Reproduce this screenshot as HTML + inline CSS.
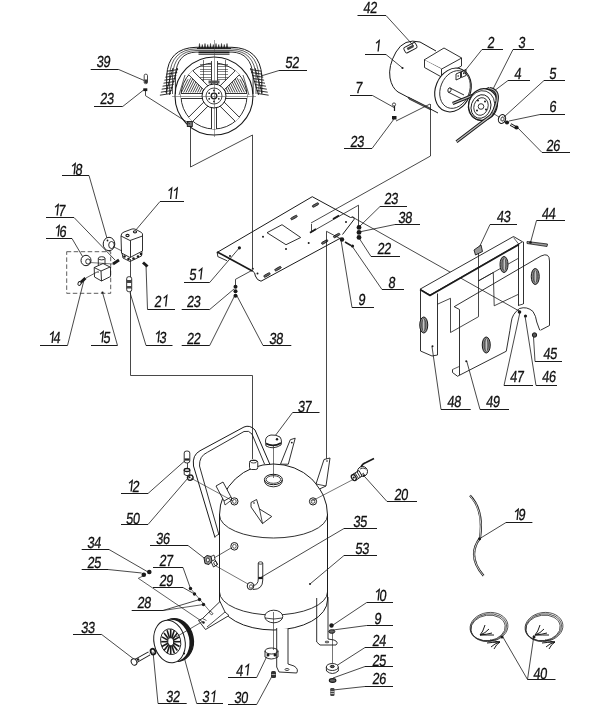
<!DOCTYPE html>
<html><head><meta charset="utf-8"><style>
html,body{margin:0;padding:0;background:#fff;}
svg{display:block;will-change:transform;}
text{font-family:"Liberation Sans",sans-serif;font-size:16px;fill:#111;stroke:#111;stroke-width:0.3px;}
</style></head><body>
<svg width="600" height="716" viewBox="0 0 600 716">
<rect width="600" height="716" fill="#fff"/>
<g transform="translate(363.00,13.00) skewX(-6) scale(0.8,1)"><text x="0" y="0">4</text></g>
<g transform="translate(369.80,13.00) skewX(-6) scale(0.8,1)"><text x="0" y="0">2</text></g>
<line x1="357.5" y1="15.5" x2="386" y2="15.5" stroke="#1a1a1a" stroke-width="1.0"/>
<line x1="386" y1="15.5" x2="413.75" y2="46" stroke="#1a1a1a" stroke-width="0.8"/>
<g transform="translate(375.00,51.50) skewX(-6)"><path d="M 3.1,0 L 3.1,-10.9 L 0.2,-8.2" stroke="#1a1a1a" stroke-width="1.35" fill="none" stroke-linejoin="miter"/></g>
<line x1="365" y1="54.5" x2="386" y2="54.5" stroke="#1a1a1a" stroke-width="1.0"/>
<line x1="386" y1="54.5" x2="402.5" y2="68" stroke="#1a1a1a" stroke-width="0.8"/>
<g transform="translate(487.00,47.50) skewX(-6) scale(0.8,1)"><text x="0" y="0">2</text></g>
<line x1="482" y1="49.5" x2="503" y2="49.5" stroke="#1a1a1a" stroke-width="1.0"/>
<line x1="482" y1="49.5" x2="464" y2="72" stroke="#1a1a1a" stroke-width="0.8"/>
<g transform="translate(518.00,47.50) skewX(-6) scale(0.8,1)"><text x="0" y="0">3</text></g>
<line x1="513" y1="49.5" x2="534" y2="49.5" stroke="#1a1a1a" stroke-width="1.0"/>
<line x1="513" y1="49.5" x2="492" y2="91" stroke="#1a1a1a" stroke-width="0.8"/>
<g transform="translate(514.00,78.50) skewX(-6) scale(0.8,1)"><text x="0" y="0">4</text></g>
<line x1="508" y1="80.5" x2="530" y2="80.5" stroke="#1a1a1a" stroke-width="1.0"/>
<line x1="508" y1="80.5" x2="494" y2="91" stroke="#1a1a1a" stroke-width="0.8"/>
<g transform="translate(549.00,78.50) skewX(-6) scale(0.8,1)"><text x="0" y="0">5</text></g>
<line x1="544" y1="80.5" x2="565" y2="80.5" stroke="#1a1a1a" stroke-width="1.0"/>
<line x1="544" y1="80.5" x2="504" y2="117" stroke="#1a1a1a" stroke-width="0.8"/>
<g transform="translate(549.00,111.50) skewX(-6) scale(0.8,1)"><text x="0" y="0">6</text></g>
<line x1="540" y1="114.5" x2="565" y2="114.5" stroke="#1a1a1a" stroke-width="1.0"/>
<line x1="540" y1="114.5" x2="509" y2="121" stroke="#1a1a1a" stroke-width="0.8"/>
<g transform="translate(546.00,150.50) skewX(-6) scale(0.8,1)"><text x="0" y="0">2</text></g>
<g transform="translate(552.80,150.50) skewX(-6) scale(0.8,1)"><text x="0" y="0">6</text></g>
<line x1="542" y1="152.5" x2="570" y2="152.5" stroke="#1a1a1a" stroke-width="1.0"/>
<line x1="542" y1="152.5" x2="516" y2="126" stroke="#1a1a1a" stroke-width="0.8"/>
<g transform="translate(355.00,93.00) skewX(-6) scale(0.8,1)"><text x="0" y="0">7</text></g>
<line x1="350" y1="95.5" x2="372.5" y2="95.5" stroke="#1a1a1a" stroke-width="1.0"/>
<line x1="372.5" y1="95.5" x2="394" y2="107.5" stroke="#1a1a1a" stroke-width="0.8"/>
<g transform="translate(350.00,146.50) skewX(-6) scale(0.8,1)"><text x="0" y="0">2</text></g>
<g transform="translate(356.80,146.50) skewX(-6) scale(0.8,1)"><text x="0" y="0">3</text></g>
<line x1="344" y1="148.5" x2="372" y2="148.5" stroke="#1a1a1a" stroke-width="1.0"/>
<line x1="372" y1="148.5" x2="394" y2="119" stroke="#1a1a1a" stroke-width="0.8"/>
<g transform="translate(96.30,66.80) skewX(-6) scale(0.8,1)"><text x="0" y="0">3</text></g>
<g transform="translate(103.10,66.80) skewX(-6) scale(0.8,1)"><text x="0" y="0">9</text></g>
<line x1="90.7" y1="69.5" x2="118.7" y2="69.5" stroke="#1a1a1a" stroke-width="1.0"/>
<line x1="118.7" y1="69.5" x2="145.3" y2="81" stroke="#1a1a1a" stroke-width="0.8"/>
<g transform="translate(99.70,104.20) skewX(-6) scale(0.8,1)"><text x="0" y="0">2</text></g>
<g transform="translate(106.50,104.20) skewX(-6) scale(0.8,1)"><text x="0" y="0">3</text></g>
<line x1="94" y1="106.5" x2="122.7" y2="106.5" stroke="#1a1a1a" stroke-width="1.0"/>
<line x1="122.7" y1="106.5" x2="144" y2="89.7" stroke="#1a1a1a" stroke-width="0.8"/>
<g transform="translate(285.00,68.30) skewX(-6) scale(0.8,1)"><text x="0" y="0">5</text></g>
<g transform="translate(291.80,68.30) skewX(-6) scale(0.8,1)"><text x="0" y="0">2</text></g>
<line x1="279" y1="70.5" x2="307" y2="70.5" stroke="#1a1a1a" stroke-width="1.0"/>
<line x1="279" y1="70.5" x2="261" y2="76" stroke="#1a1a1a" stroke-width="0.8"/>
<g transform="translate(71.00,174.50) skewX(-6)"><path d="M 3.1,0 L 3.1,-10.9 L 0.2,-8.2" stroke="#1a1a1a" stroke-width="1.35" fill="none" stroke-linejoin="miter"/></g>
<g transform="translate(75.00,174.50) skewX(-6) scale(0.8,1)"><text x="0" y="0">8</text></g>
<line x1="62" y1="175.5" x2="89" y2="175.5" stroke="#1a1a1a" stroke-width="1.0"/>
<line x1="89" y1="175.5" x2="107.5" y2="240" stroke="#1a1a1a" stroke-width="0.8"/>
<g transform="translate(167.50,199.00) skewX(-6)"><path d="M 3.1,0 L 3.1,-10.9 L 0.2,-8.2" stroke="#1a1a1a" stroke-width="1.35" fill="none" stroke-linejoin="miter"/></g>
<g transform="translate(173.00,199.00) skewX(-6)"><path d="M 3.1,0 L 3.1,-10.9 L 0.2,-8.2" stroke="#1a1a1a" stroke-width="1.35" fill="none" stroke-linejoin="miter"/></g>
<line x1="160" y1="201.5" x2="184" y2="201.5" stroke="#1a1a1a" stroke-width="1.0"/>
<line x1="160" y1="201.5" x2="135" y2="231" stroke="#1a1a1a" stroke-width="0.8"/>
<g transform="translate(54.00,215.50) skewX(-6)"><path d="M 3.1,0 L 3.1,-10.9 L 0.2,-8.2" stroke="#1a1a1a" stroke-width="1.35" fill="none" stroke-linejoin="miter"/></g>
<g transform="translate(58.00,215.50) skewX(-6) scale(0.8,1)"><text x="0" y="0">7</text></g>
<line x1="46" y1="217.5" x2="74" y2="217.5" stroke="#1a1a1a" stroke-width="1.0"/>
<line x1="74" y1="217.5" x2="115" y2="260" stroke="#1a1a1a" stroke-width="0.8"/>
<g transform="translate(55.00,236.50) skewX(-6)"><path d="M 3.1,0 L 3.1,-10.9 L 0.2,-8.2" stroke="#1a1a1a" stroke-width="1.35" fill="none" stroke-linejoin="miter"/></g>
<g transform="translate(59.00,236.50) skewX(-6) scale(0.8,1)"><text x="0" y="0">6</text></g>
<line x1="46" y1="238.5" x2="72" y2="238.5" stroke="#1a1a1a" stroke-width="1.0"/>
<line x1="72" y1="238.5" x2="84" y2="259" stroke="#1a1a1a" stroke-width="0.8"/>
<g transform="translate(49.00,343.00) skewX(-6)"><path d="M 3.1,0 L 3.1,-10.9 L 0.2,-8.2" stroke="#1a1a1a" stroke-width="1.35" fill="none" stroke-linejoin="miter"/></g>
<g transform="translate(53.00,343.00) skewX(-6) scale(0.8,1)"><text x="0" y="0">4</text></g>
<line x1="40" y1="345.5" x2="67.5" y2="345.5" stroke="#1a1a1a" stroke-width="1.0"/>
<line x1="67.5" y1="345.5" x2="84" y2="280" stroke="#1a1a1a" stroke-width="0.8"/>
<g transform="translate(99.00,342.50) skewX(-6)"><path d="M 3.1,0 L 3.1,-10.9 L 0.2,-8.2" stroke="#1a1a1a" stroke-width="1.35" fill="none" stroke-linejoin="miter"/></g>
<g transform="translate(103.00,342.50) skewX(-6) scale(0.8,1)"><text x="0" y="0">5</text></g>
<line x1="91" y1="345.5" x2="117.5" y2="345.5" stroke="#1a1a1a" stroke-width="1.0"/>
<line x1="117.5" y1="345.5" x2="102.5" y2="292.5" stroke="#1a1a1a" stroke-width="0.8"/>
<g transform="translate(155.00,342.50) skewX(-6)"><path d="M 3.1,0 L 3.1,-10.9 L 0.2,-8.2" stroke="#1a1a1a" stroke-width="1.35" fill="none" stroke-linejoin="miter"/></g>
<g transform="translate(159.00,342.50) skewX(-6) scale(0.8,1)"><text x="0" y="0">3</text></g>
<line x1="146" y1="345.5" x2="172.5" y2="345.5" stroke="#1a1a1a" stroke-width="1.0"/>
<line x1="146" y1="345.5" x2="130" y2="292.5" stroke="#1a1a1a" stroke-width="0.8"/>
<g transform="translate(154.00,306.50) skewX(-6) scale(0.8,1)"><text x="0" y="0">2</text></g>
<g transform="translate(162.60,306.50) skewX(-6)"><path d="M 3.1,0 L 3.1,-10.9 L 0.2,-8.2" stroke="#1a1a1a" stroke-width="1.35" fill="none" stroke-linejoin="miter"/></g>
<line x1="147.5" y1="309.5" x2="175" y2="309.5" stroke="#1a1a1a" stroke-width="1.0"/>
<line x1="147.5" y1="309.5" x2="146" y2="265" stroke="#1a1a1a" stroke-width="0.8"/>
<g transform="translate(189.00,279.50) skewX(-6) scale(0.8,1)"><text x="0" y="0">5</text></g>
<g transform="translate(197.60,279.50) skewX(-6)"><path d="M 3.1,0 L 3.1,-10.9 L 0.2,-8.2" stroke="#1a1a1a" stroke-width="1.35" fill="none" stroke-linejoin="miter"/></g>
<line x1="184" y1="282.5" x2="209.7" y2="282.5" stroke="#1a1a1a" stroke-width="1.0"/>
<line x1="209.7" y1="282.5" x2="239.4" y2="247.8" stroke="#1a1a1a" stroke-width="0.8"/>
<g transform="translate(186.50,307.20) skewX(-6) scale(0.8,1)"><text x="0" y="0">2</text></g>
<g transform="translate(193.30,307.20) skewX(-6) scale(0.8,1)"><text x="0" y="0">3</text></g>
<line x1="181.7" y1="309.5" x2="209.7" y2="309.5" stroke="#1a1a1a" stroke-width="1.0"/>
<line x1="209.7" y1="309.5" x2="234" y2="289" stroke="#1a1a1a" stroke-width="0.8"/>
<g transform="translate(186.50,343.50) skewX(-6) scale(0.8,1)"><text x="0" y="0">2</text></g>
<g transform="translate(193.30,343.50) skewX(-6) scale(0.8,1)"><text x="0" y="0">2</text></g>
<line x1="181.7" y1="345.5" x2="209.7" y2="345.5" stroke="#1a1a1a" stroke-width="1.0"/>
<line x1="209.7" y1="345.5" x2="235" y2="295" stroke="#1a1a1a" stroke-width="0.8"/>
<g transform="translate(269.00,343.50) skewX(-6) scale(0.8,1)"><text x="0" y="0">3</text></g>
<g transform="translate(275.80,343.50) skewX(-6) scale(0.8,1)"><text x="0" y="0">8</text></g>
<line x1="263" y1="345.5" x2="291.3" y2="345.5" stroke="#1a1a1a" stroke-width="1.0"/>
<line x1="263" y1="345.5" x2="236.5" y2="295" stroke="#1a1a1a" stroke-width="0.8"/>
<g transform="translate(384.00,203.50) skewX(-6) scale(0.8,1)"><text x="0" y="0">2</text></g>
<g transform="translate(390.80,203.50) skewX(-6) scale(0.8,1)"><text x="0" y="0">3</text></g>
<line x1="380" y1="206.5" x2="407" y2="206.5" stroke="#1a1a1a" stroke-width="1.0"/>
<line x1="380" y1="206.5" x2="359" y2="227" stroke="#1a1a1a" stroke-width="0.8"/>
<g transform="translate(398.00,222.50) skewX(-6) scale(0.8,1)"><text x="0" y="0">3</text></g>
<g transform="translate(404.80,222.50) skewX(-6) scale(0.8,1)"><text x="0" y="0">8</text></g>
<line x1="395" y1="224.5" x2="420" y2="224.5" stroke="#1a1a1a" stroke-width="1.0"/>
<line x1="395" y1="224.5" x2="359" y2="232" stroke="#1a1a1a" stroke-width="0.8"/>
<g transform="translate(377.00,253.50) skewX(-6) scale(0.8,1)"><text x="0" y="0">2</text></g>
<g transform="translate(383.80,253.50) skewX(-6) scale(0.8,1)"><text x="0" y="0">2</text></g>
<line x1="371" y1="256.5" x2="400" y2="256.5" stroke="#1a1a1a" stroke-width="1.0"/>
<line x1="371" y1="256.5" x2="359" y2="238" stroke="#1a1a1a" stroke-width="0.8"/>
<g transform="translate(388.00,287.50) skewX(-6) scale(0.8,1)"><text x="0" y="0">8</text></g>
<line x1="382" y1="289.5" x2="404" y2="289.5" stroke="#1a1a1a" stroke-width="1.0"/>
<line x1="382" y1="289.5" x2="352" y2="246" stroke="#1a1a1a" stroke-width="0.8"/>
<g transform="translate(358.00,304.50) skewX(-6) scale(0.8,1)"><text x="0" y="0">9</text></g>
<line x1="352" y1="307.5" x2="374" y2="307.5" stroke="#1a1a1a" stroke-width="1.0"/>
<line x1="352" y1="307.5" x2="341" y2="240" stroke="#1a1a1a" stroke-width="0.8"/>
<g transform="translate(496.50,222.00) skewX(-6) scale(0.8,1)"><text x="0" y="0">4</text></g>
<g transform="translate(503.30,222.00) skewX(-6) scale(0.8,1)"><text x="0" y="0">3</text></g>
<line x1="490" y1="224.5" x2="517" y2="224.5" stroke="#1a1a1a" stroke-width="1.0"/>
<line x1="490" y1="224.5" x2="478" y2="250" stroke="#1a1a1a" stroke-width="0.8"/>
<g transform="translate(541.50,219.00) skewX(-6) scale(0.8,1)"><text x="0" y="0">4</text></g>
<g transform="translate(548.30,219.00) skewX(-6) scale(0.8,1)"><text x="0" y="0">4</text></g>
<line x1="536.5" y1="220.5" x2="565" y2="220.5" stroke="#1a1a1a" stroke-width="1.0"/>
<line x1="536.5" y1="220.5" x2="530.5" y2="242.5" stroke="#1a1a1a" stroke-width="0.8"/>
<g transform="translate(543.00,358.50) skewX(-6) scale(0.8,1)"><text x="0" y="0">4</text></g>
<g transform="translate(549.80,358.50) skewX(-6) scale(0.8,1)"><text x="0" y="0">5</text></g>
<line x1="535" y1="361.5" x2="562" y2="361.5" stroke="#1a1a1a" stroke-width="1.0"/>
<line x1="535" y1="361.5" x2="533.5" y2="337" stroke="#1a1a1a" stroke-width="0.8"/>
<g transform="translate(509.70,381.50) skewX(-6) scale(0.8,1)"><text x="0" y="0">4</text></g>
<g transform="translate(516.50,381.50) skewX(-6) scale(0.8,1)"><text x="0" y="0">7</text></g>
<line x1="504" y1="385.5" x2="533" y2="385.5" stroke="#1a1a1a" stroke-width="1.0"/>
<line x1="504" y1="385.5" x2="520" y2="312" stroke="#1a1a1a" stroke-width="0.8"/>
<g transform="translate(541.70,381.50) skewX(-6) scale(0.8,1)"><text x="0" y="0">4</text></g>
<g transform="translate(548.50,381.50) skewX(-6) scale(0.8,1)"><text x="0" y="0">6</text></g>
<line x1="536" y1="385.5" x2="557" y2="385.5" stroke="#1a1a1a" stroke-width="1.0"/>
<line x1="536" y1="385.5" x2="525" y2="316" stroke="#1a1a1a" stroke-width="0.8"/>
<g transform="translate(447.00,407.20) skewX(-6) scale(0.8,1)"><text x="0" y="0">4</text></g>
<g transform="translate(453.80,407.20) skewX(-6) scale(0.8,1)"><text x="0" y="0">8</text></g>
<line x1="441" y1="409.5" x2="470.7" y2="409.5" stroke="#1a1a1a" stroke-width="1.0"/>
<line x1="441" y1="409.5" x2="432" y2="346.7" stroke="#1a1a1a" stroke-width="0.8"/>
<g transform="translate(485.70,407.20) skewX(-6) scale(0.8,1)"><text x="0" y="0">4</text></g>
<g transform="translate(492.50,407.20) skewX(-6) scale(0.8,1)"><text x="0" y="0">9</text></g>
<line x1="480" y1="409.5" x2="509" y2="409.5" stroke="#1a1a1a" stroke-width="1.0"/>
<line x1="480" y1="409.5" x2="466.7" y2="361" stroke="#1a1a1a" stroke-width="0.8"/>
<g transform="translate(297.40,412.00) skewX(-6) scale(0.8,1)"><text x="0" y="0">3</text></g>
<g transform="translate(304.20,412.00) skewX(-6) scale(0.8,1)"><text x="0" y="0">7</text></g>
<line x1="292.6" y1="412.5" x2="319.5" y2="412.5" stroke="#1a1a1a" stroke-width="1.0"/>
<line x1="292.6" y1="412.5" x2="273.5" y2="438" stroke="#1a1a1a" stroke-width="0.8"/>
<g transform="translate(128.00,491.50) skewX(-6)"><path d="M 3.1,0 L 3.1,-10.9 L 0.2,-8.2" stroke="#1a1a1a" stroke-width="1.35" fill="none" stroke-linejoin="miter"/></g>
<g transform="translate(132.00,491.50) skewX(-6) scale(0.8,1)"><text x="0" y="0">2</text></g>
<line x1="121" y1="493.5" x2="148" y2="493.5" stroke="#1a1a1a" stroke-width="1.0"/>
<line x1="148" y1="493.5" x2="185" y2="460.7" stroke="#1a1a1a" stroke-width="0.8"/>
<g transform="translate(125.70,523.50) skewX(-6) scale(0.8,1)"><text x="0" y="0">5</text></g>
<g transform="translate(132.50,523.50) skewX(-6) scale(0.8,1)"><text x="0" y="0">0</text></g>
<line x1="121" y1="524.5" x2="148" y2="524.5" stroke="#1a1a1a" stroke-width="1.0"/>
<line x1="148" y1="524.5" x2="188" y2="478" stroke="#1a1a1a" stroke-width="0.8"/>
<g transform="translate(394.00,499.50) skewX(-6) scale(0.8,1)"><text x="0" y="0">2</text></g>
<g transform="translate(400.80,499.50) skewX(-6) scale(0.8,1)"><text x="0" y="0">0</text></g>
<line x1="387" y1="501.5" x2="417" y2="501.5" stroke="#1a1a1a" stroke-width="1.0"/>
<line x1="387" y1="501.5" x2="365" y2="477" stroke="#1a1a1a" stroke-width="0.8"/>
<g transform="translate(353.00,527.00) skewX(-6) scale(0.8,1)"><text x="0" y="0">3</text></g>
<g transform="translate(359.80,527.00) skewX(-6) scale(0.8,1)"><text x="0" y="0">5</text></g>
<line x1="344" y1="528.5" x2="377" y2="528.5" stroke="#1a1a1a" stroke-width="1.0"/>
<line x1="344" y1="528.5" x2="260" y2="578" stroke="#1a1a1a" stroke-width="0.8"/>
<g transform="translate(355.00,553.50) skewX(-6) scale(0.8,1)"><text x="0" y="0">5</text></g>
<g transform="translate(361.80,553.50) skewX(-6) scale(0.8,1)"><text x="0" y="0">3</text></g>
<line x1="344" y1="555.5" x2="377" y2="555.5" stroke="#1a1a1a" stroke-width="1.0"/>
<line x1="344" y1="555.5" x2="310" y2="584" stroke="#1a1a1a" stroke-width="0.8"/>
<g transform="translate(514.00,520.10) skewX(-6)"><path d="M 3.1,0 L 3.1,-10.9 L 0.2,-8.2" stroke="#1a1a1a" stroke-width="1.35" fill="none" stroke-linejoin="miter"/></g>
<g transform="translate(518.00,520.10) skewX(-6) scale(0.8,1)"><text x="0" y="0">9</text></g>
<line x1="506" y1="522.5" x2="532.4" y2="522.5" stroke="#1a1a1a" stroke-width="1.0"/>
<line x1="506" y1="522.5" x2="479.6" y2="538.7" stroke="#1a1a1a" stroke-width="0.8"/>
<g transform="translate(87.00,547.50) skewX(-6) scale(0.8,1)"><text x="0" y="0">3</text></g>
<g transform="translate(93.80,547.50) skewX(-6) scale(0.8,1)"><text x="0" y="0">4</text></g>
<line x1="81.7" y1="549.5" x2="109" y2="549.5" stroke="#1a1a1a" stroke-width="1.0"/>
<line x1="109" y1="549.5" x2="148" y2="572" stroke="#1a1a1a" stroke-width="0.8"/>
<g transform="translate(87.00,567.50) skewX(-6) scale(0.8,1)"><text x="0" y="0">2</text></g>
<g transform="translate(93.80,567.50) skewX(-6) scale(0.8,1)"><text x="0" y="0">5</text></g>
<line x1="81.7" y1="569.5" x2="108" y2="569.5" stroke="#1a1a1a" stroke-width="1.0"/>
<line x1="108" y1="569.5" x2="141.7" y2="573" stroke="#1a1a1a" stroke-width="0.8"/>
<g transform="translate(155.70,543.50) skewX(-6) scale(0.8,1)"><text x="0" y="0">3</text></g>
<g transform="translate(162.50,543.50) skewX(-6) scale(0.8,1)"><text x="0" y="0">6</text></g>
<line x1="150" y1="545.5" x2="188" y2="545.5" stroke="#1a1a1a" stroke-width="1.0"/>
<line x1="188" y1="545.5" x2="206.7" y2="560" stroke="#1a1a1a" stroke-width="0.8"/>
<g transform="translate(159.00,565.50) skewX(-6) scale(0.8,1)"><text x="0" y="0">2</text></g>
<g transform="translate(165.80,565.50) skewX(-6) scale(0.8,1)"><text x="0" y="0">7</text></g>
<line x1="153" y1="567.5" x2="183" y2="567.5" stroke="#1a1a1a" stroke-width="1.0"/>
<line x1="183" y1="567.5" x2="190.5" y2="588.5" stroke="#1a1a1a" stroke-width="0.8"/>
<g transform="translate(159.00,585.50) skewX(-6) scale(0.8,1)"><text x="0" y="0">2</text></g>
<g transform="translate(165.80,585.50) skewX(-6) scale(0.8,1)"><text x="0" y="0">9</text></g>
<line x1="153" y1="587.5" x2="183" y2="587.5" stroke="#1a1a1a" stroke-width="1.0"/>
<line x1="183" y1="587.5" x2="194.5" y2="594" stroke="#1a1a1a" stroke-width="0.8"/>
<g transform="translate(137.00,607.50) skewX(-6) scale(0.8,1)"><text x="0" y="0">2</text></g>
<g transform="translate(143.80,607.50) skewX(-6) scale(0.8,1)"><text x="0" y="0">8</text></g>
<line x1="131.7" y1="610.5" x2="163" y2="610.5" stroke="#1a1a1a" stroke-width="1.0"/>
<line x1="163" y1="610.5" x2="199.5" y2="599.5" stroke="#1a1a1a" stroke-width="0.8"/>
<g transform="translate(80.70,632.50) skewX(-6) scale(0.8,1)"><text x="0" y="0">3</text></g>
<g transform="translate(87.50,632.50) skewX(-6) scale(0.8,1)"><text x="0" y="0">3</text></g>
<line x1="73" y1="634.5" x2="101.7" y2="634.5" stroke="#1a1a1a" stroke-width="1.0"/>
<line x1="101.7" y1="634.5" x2="135" y2="660" stroke="#1a1a1a" stroke-width="0.8"/>
<g transform="translate(165.70,702.20) skewX(-6) scale(0.8,1)"><text x="0" y="0">3</text></g>
<g transform="translate(172.50,702.20) skewX(-6) scale(0.8,1)"><text x="0" y="0">2</text></g>
<line x1="158" y1="703.5" x2="186.7" y2="703.5" stroke="#1a1a1a" stroke-width="1.0"/>
<line x1="158" y1="703.5" x2="153" y2="651.7" stroke="#1a1a1a" stroke-width="0.8"/>
<g transform="translate(202.00,702.20) skewX(-6) scale(0.8,1)"><text x="0" y="0">3</text></g>
<g transform="translate(210.60,702.20) skewX(-6)"><path d="M 3.1,0 L 3.1,-10.9 L 0.2,-8.2" stroke="#1a1a1a" stroke-width="1.35" fill="none" stroke-linejoin="miter"/></g>
<line x1="196.7" y1="703.5" x2="223" y2="703.5" stroke="#1a1a1a" stroke-width="1.0"/>
<line x1="196.7" y1="703.5" x2="183" y2="653" stroke="#1a1a1a" stroke-width="0.8"/>
<g transform="translate(234.00,702.50) skewX(-6) scale(0.8,1)"><text x="0" y="0">3</text></g>
<g transform="translate(240.80,702.50) skewX(-6) scale(0.8,1)"><text x="0" y="0">0</text></g>
<line x1="228" y1="704.5" x2="256.7" y2="704.5" stroke="#1a1a1a" stroke-width="1.0"/>
<line x1="256.7" y1="704.5" x2="271.7" y2="676.7" stroke="#1a1a1a" stroke-width="0.8"/>
<g transform="translate(235.70,675.50) skewX(-6) scale(0.8,1)"><text x="0" y="0">4</text></g>
<g transform="translate(244.30,675.50) skewX(-6)"><path d="M 3.1,0 L 3.1,-10.9 L 0.2,-8.2" stroke="#1a1a1a" stroke-width="1.35" fill="none" stroke-linejoin="miter"/></g>
<line x1="228" y1="677.5" x2="256.7" y2="677.5" stroke="#1a1a1a" stroke-width="1.0"/>
<line x1="256.7" y1="677.5" x2="266.7" y2="656.7" stroke="#1a1a1a" stroke-width="0.8"/>
<g transform="translate(375.00,600.50) skewX(-6)"><path d="M 3.1,0 L 3.1,-10.9 L 0.2,-8.2" stroke="#1a1a1a" stroke-width="1.35" fill="none" stroke-linejoin="miter"/></g>
<g transform="translate(379.00,600.50) skewX(-6) scale(0.8,1)"><text x="0" y="0">0</text></g>
<line x1="366.7" y1="602.5" x2="393" y2="602.5" stroke="#1a1a1a" stroke-width="1.0"/>
<line x1="366.7" y1="602.5" x2="333" y2="625" stroke="#1a1a1a" stroke-width="0.8"/>
<g transform="translate(374.00,623.50) skewX(-6) scale(0.8,1)"><text x="0" y="0">9</text></g>
<line x1="366.7" y1="625.5" x2="393" y2="625.5" stroke="#1a1a1a" stroke-width="1.0"/>
<line x1="366.7" y1="625.5" x2="333" y2="630" stroke="#1a1a1a" stroke-width="0.8"/>
<g transform="translate(372.00,645.50) skewX(-6) scale(0.8,1)"><text x="0" y="0">2</text></g>
<g transform="translate(378.80,645.50) skewX(-6) scale(0.8,1)"><text x="0" y="0">4</text></g>
<line x1="365" y1="647.5" x2="393" y2="647.5" stroke="#1a1a1a" stroke-width="1.0"/>
<line x1="365" y1="647.5" x2="335" y2="666.7" stroke="#1a1a1a" stroke-width="0.8"/>
<g transform="translate(372.00,665.50) skewX(-6) scale(0.8,1)"><text x="0" y="0">2</text></g>
<g transform="translate(378.80,665.50) skewX(-6) scale(0.8,1)"><text x="0" y="0">5</text></g>
<line x1="365" y1="666.5" x2="393" y2="666.5" stroke="#1a1a1a" stroke-width="1.0"/>
<line x1="365" y1="666.5" x2="333" y2="678" stroke="#1a1a1a" stroke-width="0.8"/>
<g transform="translate(372.00,683.50) skewX(-6) scale(0.8,1)"><text x="0" y="0">2</text></g>
<g transform="translate(378.80,683.50) skewX(-6) scale(0.8,1)"><text x="0" y="0">6</text></g>
<line x1="365" y1="686.5" x2="393" y2="686.5" stroke="#1a1a1a" stroke-width="1.0"/>
<line x1="365" y1="686.5" x2="333" y2="690" stroke="#1a1a1a" stroke-width="0.8"/>
<g transform="translate(533.00,678.50) skewX(-6) scale(0.8,1)"><text x="0" y="0">4</text></g>
<g transform="translate(539.80,678.50) skewX(-6) scale(0.8,1)"><text x="0" y="0">0</text></g>
<line x1="527.5" y1="679.5" x2="555.5" y2="679.5" stroke="#1a1a1a" stroke-width="1.0"/>
<line x1="527.5" y1="679.5" x2="502.7" y2="636.7" stroke="#1a1a1a" stroke-width="0.8"/>
<line x1="527.5" y1="679.5" x2="534" y2="635" stroke="#1a1a1a" stroke-width="0.8"/>
<path d="M 198.8,48 L 199.5,43.5 L 200.2,48 Z" stroke="#1a1a1a" stroke-width="0.5" fill="#1a1a1a" stroke-linejoin="round" />
<path d="M 201.55,48 L 202.25,44.5 L 202.95,48 Z" stroke="#1a1a1a" stroke-width="0.5" fill="#1a1a1a" stroke-linejoin="round" />
<path d="M 204.3,48 L 205.0,43.5 L 205.7,48 Z" stroke="#1a1a1a" stroke-width="0.5" fill="#1a1a1a" stroke-linejoin="round" />
<path d="M 207.05,48 L 207.75,44.5 L 208.45,48 Z" stroke="#1a1a1a" stroke-width="0.5" fill="#1a1a1a" stroke-linejoin="round" />
<path d="M 209.8,48 L 210.5,43.5 L 211.2,48 Z" stroke="#1a1a1a" stroke-width="0.5" fill="#1a1a1a" stroke-linejoin="round" />
<path d="M 212.55,48 L 213.25,44.5 L 213.95,48 Z" stroke="#1a1a1a" stroke-width="0.5" fill="#1a1a1a" stroke-linejoin="round" />
<path d="M 215.3,48 L 216.0,43.5 L 216.7,48 Z" stroke="#1a1a1a" stroke-width="0.5" fill="#1a1a1a" stroke-linejoin="round" />
<path d="M 218.05,48 L 218.75,44.5 L 219.45,48 Z" stroke="#1a1a1a" stroke-width="0.5" fill="#1a1a1a" stroke-linejoin="round" />
<path d="M 220.8,48 L 221.5,43.5 L 222.2,48 Z" stroke="#1a1a1a" stroke-width="0.5" fill="#1a1a1a" stroke-linejoin="round" />
<path d="M 223.55,48 L 224.25,44.5 L 224.95,48 Z" stroke="#1a1a1a" stroke-width="0.5" fill="#1a1a1a" stroke-linejoin="round" />
<path d="M 226.3,48 L 227.0,43.5 L 227.7,48 Z" stroke="#1a1a1a" stroke-width="0.5" fill="#1a1a1a" stroke-linejoin="round" />
<line x1="197" y1="48.5" x2="231" y2="48.5" stroke="#1a1a1a" stroke-width="0.9"/>
<line x1="198.5" y1="52.5" x2="229.5" y2="52.5" stroke="#1a1a1a" stroke-width="1.8"/>
<line x1="198.5" y1="54.5" x2="229.5" y2="54.5" stroke="#1a1a1a" stroke-width="0.7"/>
<path d="M 166.7,94 L 166.7,76 Q 168,48 196,47.3 L 232,47.3 Q 260,48 261.8,76 L 261.8,94" stroke="#1a1a1a" stroke-width="1.0" fill="none" stroke-linejoin="round" />
<path d="M 169.6,94 L 169.6,76 Q 170.9,49.6 196,48.9 L 232,48.9 Q 257.1,49.6 258.90000000000003,76 L 258.90000000000003,94" stroke="#1a1a1a" stroke-width="0.7" fill="none" stroke-linejoin="round" />
<path d="M 172.5,94 L 172.5,76 Q 173.8,51.2 196,50.5 L 232,50.5 Q 254.2,51.2 256.0,76 L 256.0,94" stroke="#1a1a1a" stroke-width="0.7" fill="none" stroke-linejoin="round" />
<path d="M 175.39999999999998,94 L 175.39999999999998,76 Q 176.7,52.8 196,52.099999999999994 L 232,52.099999999999994 Q 251.3,52.8 253.10000000000002,76 L 253.10000000000002,94" stroke="#1a1a1a" stroke-width="0.9" fill="none" stroke-linejoin="round" />
<line x1="166" y1="93" x2="173" y2="68" stroke="#1a1a1a" stroke-width="0.9"/>
<line x1="169.5" y1="95" x2="177.5" y2="68" stroke="#1a1a1a" stroke-width="0.9"/>
<line x1="179" y1="95" x2="185" y2="75" stroke="#1a1a1a" stroke-width="0.7"/>
<line x1="167.1" y1="71.2" x2="178.1" y2="69.5" stroke="#1a1a1a" stroke-width="0.9"/>
<line x1="166.2" y1="74.2" x2="177.2" y2="72.5" stroke="#1a1a1a" stroke-width="0.9"/>
<line x1="165.3" y1="77.2" x2="176.3" y2="75.5" stroke="#1a1a1a" stroke-width="0.9"/>
<line x1="164.4" y1="80.2" x2="175.4" y2="78.5" stroke="#1a1a1a" stroke-width="0.9"/>
<line x1="163.5" y1="83.2" x2="174.5" y2="81.5" stroke="#1a1a1a" stroke-width="0.9"/>
<line x1="162.6" y1="86.2" x2="173.6" y2="84.5" stroke="#1a1a1a" stroke-width="0.9"/>
<line x1="161.7" y1="89.2" x2="172.7" y2="87.5" stroke="#1a1a1a" stroke-width="0.9"/>
<line x1="160.8" y1="92.2" x2="171.8" y2="90.5" stroke="#1a1a1a" stroke-width="0.9"/>
<line x1="159.9" y1="95.2" x2="170.9" y2="93.5" stroke="#1a1a1a" stroke-width="0.9"/>
<line x1="262" y1="93" x2="255" y2="68" stroke="#1a1a1a" stroke-width="0.9"/>
<line x1="258.5" y1="95" x2="250.5" y2="68" stroke="#1a1a1a" stroke-width="0.9"/>
<line x1="249" y1="95" x2="243" y2="75" stroke="#1a1a1a" stroke-width="0.7"/>
<line x1="250.4" y1="69.5" x2="261.4" y2="71.2" stroke="#1a1a1a" stroke-width="0.9"/>
<line x1="251.3" y1="72.5" x2="262.3" y2="74.2" stroke="#1a1a1a" stroke-width="0.9"/>
<line x1="252.2" y1="75.5" x2="263.2" y2="77.2" stroke="#1a1a1a" stroke-width="0.9"/>
<line x1="253.10000000000002" y1="78.5" x2="264.1" y2="80.2" stroke="#1a1a1a" stroke-width="0.9"/>
<line x1="254.0" y1="81.5" x2="265.0" y2="83.2" stroke="#1a1a1a" stroke-width="0.9"/>
<line x1="254.89999999999998" y1="84.5" x2="265.9" y2="86.2" stroke="#1a1a1a" stroke-width="0.9"/>
<line x1="255.8" y1="87.5" x2="266.8" y2="89.2" stroke="#1a1a1a" stroke-width="0.9"/>
<line x1="256.7" y1="90.5" x2="267.7" y2="92.2" stroke="#1a1a1a" stroke-width="0.9"/>
<line x1="257.6" y1="93.5" x2="268.6" y2="95.2" stroke="#1a1a1a" stroke-width="0.9"/>
<circle cx="214" cy="96" r="39" stroke="#1a1a1a" stroke-width="1.1" fill="none"/>
<circle cx="214" cy="96" r="33" stroke="#1a1a1a" stroke-width="0.9" fill="none"/>
<line x1="200" y1="64.5" x2="228" y2="64.5" stroke="#333" stroke-width="0.6"/>
<line x1="200" y1="66.5" x2="228" y2="66.5" stroke="#333" stroke-width="0.6"/>
<line x1="200" y1="69.5" x2="228" y2="69.5" stroke="#333" stroke-width="0.6"/>
<line x1="200" y1="71.5" x2="228" y2="71.5" stroke="#333" stroke-width="0.6"/>
<line x1="200" y1="74.5" x2="228" y2="74.5" stroke="#333" stroke-width="0.6"/>
<line x1="200" y1="77.5" x2="228" y2="77.5" stroke="#333" stroke-width="0.6"/>
<line x1="200" y1="79.5" x2="228" y2="79.5" stroke="#333" stroke-width="0.6"/>
<line x1="203.5" y1="60" x2="203.5" y2="85" stroke="#1a1a1a" stroke-width="0.6"/>
<line x1="225.5" y1="60" x2="225.5" y2="85" stroke="#1a1a1a" stroke-width="0.6"/>
<clipPath id="hl"><polygon points="180,92.5 208,92.5 196,76 186,80"/></clipPath>
<clipPath id="hr"><polygon points="248,92.5 220,92.5 232,76 242,80"/></clipPath>
<path d="M 176.0,94 L 186.0,74 M 178.3,94 L 188.3,74 M 180.6,94 L 190.6,74 M 182.9,94 L 192.9,74 M 185.2,94 L 195.2,74 M 187.5,94 L 197.5,74 M 189.8,94 L 199.8,74 M 192.1,94 L 202.1,74 M 194.4,94 L 204.4,74 M 196.7,94 L 206.7,74 M 199.0,94 L 209.0,74 M 201.3,94 L 211.3,74" stroke="#1a1a1a" stroke-width="0.8" clip-path="url(#hl)"/>
<path d="M 252.0,94 L 242.0,74 M 249.7,94 L 239.7,74 M 247.4,94 L 237.4,74 M 245.1,94 L 235.1,74 M 242.8,94 L 232.8,74 M 240.5,94 L 230.5,74 M 238.2,94 L 228.2,74 M 235.9,94 L 225.9,74 M 233.6,94 L 223.6,74 M 231.3,94 L 221.3,74 M 229.0,94 L 219.0,74 M 226.7,94 L 216.7,74" stroke="#1a1a1a" stroke-width="0.8" clip-path="url(#hr)"/>
<polygon points="225.0,93.1 247.0,93.1 247.0,98.9 225.0,98.9" fill="#fff" stroke="none"/>
<line x1="225.0" y1="93.5" x2="247.0" y2="93.5" stroke="#1a1a1a" stroke-width="0.9"/>
<line x1="225.0" y1="98.5" x2="247.0" y2="98.5" stroke="#1a1a1a" stroke-width="0.9"/>
<polygon points="223.8,101.7 239.4,117.3 235.3,121.4 219.7,105.8" fill="#fff" stroke="none"/>
<line x1="223.8" y1="101.7" x2="239.4" y2="117.3" stroke="#1a1a1a" stroke-width="0.9"/>
<line x1="219.7" y1="105.8" x2="235.3" y2="121.4" stroke="#1a1a1a" stroke-width="0.9"/>
<polygon points="216.9,107.0 216.9,129.0 211.1,129.0 211.1,107.0" fill="#fff" stroke="none"/>
<line x1="216.5" y1="107.0" x2="216.5" y2="129.0" stroke="#1a1a1a" stroke-width="0.9"/>
<line x1="211.5" y1="107.0" x2="211.5" y2="129.0" stroke="#1a1a1a" stroke-width="0.9"/>
<polygon points="208.3,105.8 192.7,121.4 188.6,117.3 204.2,101.7" fill="#fff" stroke="none"/>
<line x1="208.3" y1="105.8" x2="192.7" y2="121.4" stroke="#1a1a1a" stroke-width="0.9"/>
<line x1="204.2" y1="101.7" x2="188.6" y2="117.3" stroke="#1a1a1a" stroke-width="0.9"/>
<polygon points="203.0,98.9 181.0,98.9 181.0,93.1 203.0,93.1" fill="#fff" stroke="none"/>
<line x1="203.0" y1="98.5" x2="181.0" y2="98.5" stroke="#1a1a1a" stroke-width="0.9"/>
<line x1="203.0" y1="93.5" x2="181.0" y2="93.5" stroke="#1a1a1a" stroke-width="0.9"/>
<polygon points="204.2,90.3 188.6,74.7 192.7,70.6 208.3,86.2" fill="#fff" stroke="none"/>
<line x1="204.2" y1="90.3" x2="188.6" y2="74.7" stroke="#1a1a1a" stroke-width="0.9"/>
<line x1="208.3" y1="86.2" x2="192.7" y2="70.6" stroke="#1a1a1a" stroke-width="0.9"/>
<polygon points="211.1,85.0 211.1,63.0 216.9,63.0 216.9,85.0" fill="#fff" stroke="none"/>
<line x1="211.5" y1="85.0" x2="211.5" y2="63.0" stroke="#1a1a1a" stroke-width="0.9"/>
<line x1="216.5" y1="85.0" x2="216.5" y2="63.0" stroke="#1a1a1a" stroke-width="0.9"/>
<polygon points="219.7,86.2 235.3,70.6 239.4,74.7 223.8,90.3" fill="#fff" stroke="none"/>
<line x1="219.7" y1="86.2" x2="235.3" y2="70.6" stroke="#1a1a1a" stroke-width="0.9"/>
<line x1="223.8" y1="90.3" x2="239.4" y2="74.7" stroke="#1a1a1a" stroke-width="0.9"/>
<polyline points="211.5,61 211.5,84.5 217.5,84.5 217.5,61" stroke="#1a1a1a" stroke-width="0.8" fill="#fff" stroke-linejoin="round"/>
<rect x="208.5" y="80.5" width="11" height="3" fill="#555"/>
<line x1="208" y1="86.5" x2="220" y2="86.5" stroke="#1a1a1a" stroke-width="1.2"/>
<circle cx="214" cy="96" r="12" stroke="#1a1a1a" stroke-width="1.0" fill="#fff"/>
<circle cx="214" cy="96" r="8" stroke="#1a1a1a" stroke-width="0.8" fill="none"/>
<circle cx="218.8" cy="98.8" r="0.9" fill="#1a1a1a"/>
<circle cx="214.0" cy="101.5" r="0.9" fill="#1a1a1a"/>
<circle cx="209.2" cy="98.8" r="0.9" fill="#1a1a1a"/>
<circle cx="209.2" cy="93.2" r="0.9" fill="#1a1a1a"/>
<circle cx="214.0" cy="90.5" r="0.9" fill="#1a1a1a"/>
<circle cx="218.8" cy="93.2" r="0.9" fill="#1a1a1a"/>
<circle cx="214" cy="96" r="2.8" stroke="#1a1a1a" stroke-width="1.3" fill="none"/>
<line x1="214.5" y1="40" x2="214.5" y2="137" stroke="#444" stroke-width="0.5"/>
<line x1="172" y1="96.5" x2="256" y2="96.5" stroke="#444" stroke-width="0.5"/>
<rect x="187.3" y="121.5" width="5" height="5" fill="#777" stroke="#1a1a1a" stroke-width="0.9"/>
<rect x="144.2" y="74.2" width="3.3" height="9.5" rx="1.4" fill="#fff" stroke="#1a1a1a" stroke-width="0.8"/>
<rect x="144.5" y="79.5" width="2.7" height="3.5" fill="#333"/>
<rect x="143.3" y="88.3" width="4" height="2.8" fill="#1a1a1a"/>
<polyline points="145.5,91 145.5,95.7 190,124" stroke="#1a1a1a" stroke-width="0.8" fill="none" stroke-linejoin="round"/>
<polyline points="190.5,126 190.5,167 252.5,135 252.5,268.7" stroke="#1a1a1a" stroke-width="0.8" fill="none" stroke-linejoin="round"/>
<path d="M 436,51 L 420,42 Q 404,38 396,52 Q 388,66 390,78 Q 392,88 398,92 L 438,113" stroke="#1a1a1a" stroke-width="1.0" fill="none" stroke-linejoin="round" />
<polygon points="424,60 444,48 461.7,58 441.7,69" stroke="#1a1a1a" stroke-width="0.9" fill="#fff" stroke-linejoin="round"/>
<polyline points="424.5,60 424.5,67.5 441.5,77 441.5,69" stroke="#1a1a1a" stroke-width="0.9" fill="#fff" stroke-linejoin="round"/>
<polyline points="441.7,77 461.5,66 461.5,58" stroke="#1a1a1a" stroke-width="0.9" fill="none" stroke-linejoin="round"/>
<ellipse cx="453" cy="90" rx="17.5" ry="22.5" transform="rotate(22 453 90)" stroke="#1a1a1a" stroke-width="1.1" fill="#fff"/>
<ellipse cx="455" cy="89.5" rx="14.5" ry="19.5" transform="rotate(22 455 89.5)" stroke="#1a1a1a" stroke-width="0.8" fill="none"/>
<path d="M 450,88 L 464,95 M 448,92 L 462,99" stroke="#1a1a1a" stroke-width="0.9" fill="none" stroke-linejoin="round" />
<ellipse cx="449.5" cy="90" rx="1.5" ry="2.3" transform="rotate(20 449.5 90)" stroke="#1a1a1a" stroke-width="0.9" fill="none"/>
<rect x="404" y="45" width="13" height="6" rx="1.5" transform="rotate(-28 410 48)" fill="none" stroke="#1a1a1a" stroke-width="0.9"/>
<rect x="407" y="46.5" width="7" height="2.5" transform="rotate(-28 410 48)" fill="#444"/>
<circle cx="402.5" cy="68" r="1.1" fill="#1a1a1a"/>
<polygon points="456,74 460.5,72 460.5,78 456,80" stroke="#1a1a1a" stroke-width="0.9" fill="none" stroke-linejoin="round"/>
<polygon points="461.5,71.5 466,69.5 466,75.5 461.5,77.5" stroke="#1a1a1a" stroke-width="0.9" fill="none" stroke-linejoin="round"/>
<circle cx="458.2" cy="76" r="0.8" fill="#1a1a1a"/>
<circle cx="463.8" cy="73.5" r="0.8" fill="#1a1a1a"/>
<polygon points="408,97 430,108 431,110 409,99" stroke="#1a1a1a" stroke-width="0.8" fill="#777" stroke-linejoin="round"/>
<ellipse cx="394" cy="104.5" rx="1.6" ry="1.6" transform="rotate(0 394 104.5)" stroke="#1a1a1a" stroke-width="0.8" fill="none"/>
<line x1="394.5" y1="106" x2="394.5" y2="111" stroke="#1a1a1a" stroke-width="1.2"/>
<rect x="392" y="116" width="4.5" height="3.5" fill="#1a1a1a"/>
<polyline points="396,121 430,104" stroke="#1a1a1a" stroke-width="0.8" fill="none" stroke-linejoin="round"/>
<polyline points="430.5,104 430.5,156 311,223" stroke="#1a1a1a" stroke-width="0.8" fill="none" stroke-linejoin="round"/>
<path d="M 452.7,103.5 L 489.5,88.5" stroke="#1a1a1a" stroke-width="3.2" fill="none" stroke-linejoin="round" />
<path d="M 452.7,103.5 L 489.5,88.5" stroke="#bbb" stroke-width="1.2" fill="none" stroke-linejoin="round" />
<ellipse cx="483" cy="104.6" rx="14.3" ry="16" transform="rotate(18 483 104.6)" stroke="#1a1a1a" stroke-width="1.2" fill="#fff"/>
<ellipse cx="481.5" cy="105.5" rx="13" ry="15" transform="rotate(18 481.5 105.5)" stroke="#1a1a1a" stroke-width="0.8" fill="none"/>
<path d="M 489.5,88.5 Q 499,90 497,101 Q 495,110 491,115.5 L 456.5,141.7" stroke="#1a1a1a" stroke-width="3.2" fill="none" stroke-linejoin="round" />
<path d="M 489.5,88.5 Q 499,90 497,101 Q 495,110 491,115.5 L 456.5,141.7" stroke="#bbb" stroke-width="1.2" fill="none" stroke-linejoin="round" />
<ellipse cx="481" cy="106.5" rx="9.75" ry="12" transform="rotate(18 481 106.5)" stroke="#1a1a1a" stroke-width="0.9" fill="none"/>
<ellipse cx="481" cy="106.5" rx="7" ry="9" transform="rotate(18 481 106.5)" stroke="#1a1a1a" stroke-width="0.8" fill="none"/>
<circle cx="481" cy="106.5" r="2.8" stroke="#1a1a1a" stroke-width="0.9" fill="none"/>
<circle cx="485" cy="101.5" r="1.0" fill="#1a1a1a"/>
<circle cx="477" cy="110.5" r="1.0" fill="#1a1a1a"/>
<circle cx="486" cy="109.5" r="1.0" fill="#1a1a1a"/>
<circle cx="478" cy="100.5" r="1.0" fill="#1a1a1a"/>
<line x1="491" y1="112" x2="499" y2="117" stroke="#1a1a1a" stroke-width="0.7"/>
<ellipse cx="502" cy="119" rx="3.5" ry="4.5" transform="rotate(20 502 119)" stroke="#1a1a1a" stroke-width="1.1" fill="none"/>
<ellipse cx="502.5" cy="119" rx="1.5" ry="2.2" transform="rotate(20 502.5 119)" stroke="#1a1a1a" stroke-width="0.8" fill="none"/>
<circle cx="507" cy="122.5" r="2.1" fill="#1a1a1a"/>
<path d="M 510.5,124.5 L 516,127.5" stroke="#1a1a1a" stroke-width="2.6" fill="none" stroke-linejoin="round" />
<path d="M 510.5,124.5 L 516,127.5" stroke="#fff" stroke-width="1.0" fill="none" stroke-linejoin="round" />
<circle cx="516.5" cy="127.5" r="2.1" fill="#1a1a1a"/>
<path d="M 216.7,252.7 L 312.25,196.7 L 350.5,217.5 Q 355,216 354,219.5 L 342.5,234.5" stroke="#1a1a1a" stroke-width="1.0" fill="none" stroke-linejoin="round" />
<path d="M 217.25,251.9 L 252.8,271.2" stroke="#1a1a1a" stroke-width="1.7" fill="none" stroke-linejoin="round" />
<path d="M 252.8,271.2 L 254.6,272.9 L 255.4,276 Q 257,280.5 261,281.2 L 340.7,238" stroke="#1a1a1a" stroke-width="1.0" fill="none" stroke-linejoin="round" />
<path d="M 217.25,251.9 L 217.8,256.6 L 227.2,260.8" stroke="#1a1a1a" stroke-width="0.9" fill="none" stroke-linejoin="round" />
<polygon points="267,232.7 282,224.7 300.7,237.5 286,244.7" stroke="#1a1a1a" stroke-width="0.9" fill="none" stroke-linejoin="round"/>
<rect x="312.0" y="204" width="7" height="2" rx="1" transform="rotate(-29 315.5 205)" fill="#666" stroke="#1a1a1a" stroke-width="0.8"/>
<rect x="290.5" y="216.5" width="7" height="2" rx="1" transform="rotate(-29 294 217.5)" fill="#666" stroke="#1a1a1a" stroke-width="0.8"/>
<rect x="274.5" y="267.7" width="7" height="2" rx="1" transform="rotate(-29 278 268.7)" fill="#666" stroke="#1a1a1a" stroke-width="0.8"/>
<rect x="263.5" y="274" width="7" height="2" rx="1" transform="rotate(-29 267 275)" fill="#666" stroke="#1a1a1a" stroke-width="0.8"/>
<rect x="321.2" y="241" width="7" height="2" rx="1" transform="rotate(-29 324.7 242)" fill="#666" stroke="#1a1a1a" stroke-width="0.8"/>
<rect x="333.2" y="234.5" width="7" height="2" rx="1" transform="rotate(-29 336.7 235.5)" fill="#666" stroke="#1a1a1a" stroke-width="0.8"/>
<path d="M 310,232.7 L 316,229" stroke="#1a1a1a" stroke-width="1.8" fill="none" stroke-linejoin="round" />
<path d="M 333,219 L 339,215.5" stroke="#1a1a1a" stroke-width="1.8" fill="none" stroke-linejoin="round" />
<polyline points="311.5,224 311.5,232 358.5,205.2 358.5,226" stroke="#1a1a1a" stroke-width="0.8" fill="none" stroke-linejoin="round"/>
<circle cx="230" cy="256" r="1.0" fill="#1a1a1a"/>
<circle cx="263" cy="236.7" r="1.0" fill="#1a1a1a"/>
<circle cx="286" cy="249" r="1.0" fill="#1a1a1a"/>
<circle cx="308.7" cy="243" r="1.0" fill="#1a1a1a"/>
<circle cx="252.8" cy="268.8" r="1.0" fill="#1a1a1a"/>
<circle cx="257.5" cy="273.5" r="1.0" fill="#1a1a1a"/>
<circle cx="346" cy="222" r="1.0" fill="#1a1a1a"/>
<circle cx="239.4" cy="247.8" r="1.6" fill="#1a1a1a"/>
<polyline points="251.7,270.5 235.5,279.3 235.5,285" stroke="#1a1a1a" stroke-width="0.8" fill="none" stroke-linejoin="round"/>
<circle cx="235.5" cy="286.7" r="2.0" fill="#1a1a1a"/>
<circle cx="235.5" cy="291.25" r="2.0" fill="#1a1a1a"/>
<circle cx="235.5" cy="295.8" r="2.0" fill="#1a1a1a"/>
<polyline points="326.5,459 326.5,231.3 341,239" stroke="#1a1a1a" stroke-width="0.8" fill="none" stroke-linejoin="round"/>
<circle cx="342" cy="239.5" r="2.2" fill="#1a1a1a"/>
<path d="M 345,242 L 351,245.5" stroke="#1a1a1a" stroke-width="1.5" fill="none" stroke-linejoin="round" />
<circle cx="352.5" cy="246" r="1.6" fill="#1a1a1a"/>
<circle cx="359" cy="227.4" r="2.4" fill="#1a1a1a"/>
<circle cx="359" cy="232.4" r="2.4" fill="#1a1a1a"/>
<circle cx="359" cy="237.4" r="2.4" fill="#1a1a1a"/>
<line x1="352" y1="216.8" x2="520" y2="311.5" stroke="#1a1a1a" stroke-width="0.8"/>
<path d="M 121,236 Q 121,233 124,232 L 132,229 Q 134,228.5 136,229.5 L 141.5,232.5 Q 143,233.5 142.5,236" stroke="#1a1a1a" stroke-width="0.9" fill="#fff" stroke-linejoin="round" />
<polyline points="121,236 130,240.5 142.5,236" stroke="#1a1a1a" stroke-width="0.9" fill="none" stroke-linejoin="round"/>
<polyline points="121,236 121.5,253 130,257.5 142.5,251 142.5,236" stroke="#1a1a1a" stroke-width="0.9" fill="none" stroke-linejoin="round"/>
<line x1="130.5" y1="240.5" x2="130.5" y2="257.5" stroke="#1a1a1a" stroke-width="0.9"/>
<ellipse cx="127.5" cy="235.5" rx="1.6" ry="1.1" transform="rotate(0 127.5 235.5)" stroke="#1a1a1a" stroke-width="1.1" fill="none"/>
<ellipse cx="135" cy="231.8" rx="1.6" ry="1.1" transform="rotate(0 135 231.8)" stroke="#1a1a1a" stroke-width="1.1" fill="none"/>
<polyline points="122,253 123,258 130,261.5 141.5,256 142,251.5" stroke="#1a1a1a" stroke-width="0.9" fill="none" stroke-linejoin="round"/>
<circle cx="124.5" cy="256.5" r="1.3" fill="#1a1a1a"/>
<circle cx="128.5" cy="259" r="1.3" fill="#1a1a1a"/>
<circle cx="133.5" cy="258.5" r="1.3" fill="#1a1a1a"/>
<circle cx="138" cy="256.5" r="1.3" fill="#1a1a1a"/>
<circle cx="141" cy="254" r="1.3" fill="#1a1a1a"/>
<ellipse cx="109" cy="244" rx="5.8" ry="6.7" transform="rotate(0 109 244)" stroke="#1a1a1a" stroke-width="1.0" fill="#fff"/>
<ellipse cx="111.5" cy="245" rx="2.8" ry="3.5" transform="rotate(0 111.5 245)" stroke="#1a1a1a" stroke-width="0.9" fill="none"/>
<circle cx="107.5" cy="240.5" r="0.9" fill="#1a1a1a"/>
<line x1="113" y1="246.5" x2="122" y2="251" stroke="#1a1a1a" stroke-width="0.7"/>
<path d="M 113,264 L 119,260" stroke="#1a1a1a" stroke-width="2.8" fill="none" stroke-linejoin="round" />
<path d="M 143,262.5 L 147.5,266.5" stroke="#1a1a1a" stroke-width="3.0" fill="none" stroke-linejoin="round" />
<rect x="66.7" y="251.7" width="44" height="41.6" fill="none" stroke="#333" stroke-width="0.8" stroke-dasharray="4.5,2.5"/>
<polygon points="94.2,267.5 103,263.5 110,267 101,271" stroke="#1a1a1a" stroke-width="0.9" fill="#fff" stroke-linejoin="round"/>
<polyline points="94.2,267.5 94.5,277 101.5,281 110.5,276.5 110.5,267" stroke="#1a1a1a" stroke-width="0.9" fill="none" stroke-linejoin="round"/>
<line x1="101" y1="271" x2="101.5" y2="281" stroke="#1a1a1a" stroke-width="0.9"/>
<path d="M 98.3,265.5 L 98.3,258.5 M 105,258.5 L 105,264" stroke="#1a1a1a" stroke-width="0.9" fill="none" stroke-linejoin="round" />
<ellipse cx="101.7" cy="258.3" rx="3.3" ry="1.6" transform="rotate(0 101.7 258.3)" stroke="#1a1a1a" stroke-width="0.9" fill="none"/>
<circle cx="98" cy="272" r="0.8" fill="#1a1a1a"/>
<ellipse cx="86" cy="260.5" rx="5" ry="5.2" transform="rotate(0 86 260.5)" stroke="#1a1a1a" stroke-width="1.0" fill="#fff"/>
<ellipse cx="88" cy="261.5" rx="2.3" ry="2.6" transform="rotate(0 88 261.5)" stroke="#1a1a1a" stroke-width="0.9" fill="none"/>
<line x1="90" y1="262.5" x2="113" y2="264" stroke="#1a1a1a" stroke-width="0.6"/>
<path d="M 79,284 L 85.5,278" stroke="#1a1a1a" stroke-width="3.0" fill="none" stroke-linejoin="round" />
<ellipse cx="79.5" cy="283.5" rx="1.5" ry="2" transform="rotate(30 79.5 283.5)" stroke="#1a1a1a" stroke-width="0.9" fill="#fff"/>
<line x1="86" y1="278" x2="97" y2="272" stroke="#1a1a1a" stroke-width="0.7"/>
<circle cx="102.5" cy="292.5" r="1.1" fill="#1a1a1a"/>
<polyline points="130.5,259 130.5,375.5 252.5,375.5 252.5,459" stroke="#1a1a1a" stroke-width="0.8" fill="none" stroke-linejoin="round"/>
<rect x="126.7" y="276.7" width="5" height="15" rx="2" fill="#fff" stroke="#1a1a1a" stroke-width="0.9"/>
<rect x="126.7" y="280" width="5" height="3" fill="#444"/>
<rect x="126.7" y="286" width="5" height="2.5" fill="#444"/>
<polygon points="420,289.2 513.5,236.5 522.5,241.75 430,295" stroke="#1a1a1a" stroke-width="0.9" fill="#fff" stroke-linejoin="round"/>
<path d="M 420,289.5 L 430,295.5 L 519,244.5" stroke="#1a1a1a" stroke-width="1.5" fill="none" stroke-linejoin="round" />
<line x1="513.5" y1="237.5" x2="519" y2="244.5" stroke="#1a1a1a" stroke-width="0.7"/>
<polyline points="420.5,289.2 420.5,351 432,356 437.5,355 437.5,293.5" stroke="#1a1a1a" stroke-width="0.9" fill="none" stroke-linejoin="round"/>
<line x1="518.5" y1="244" x2="518.5" y2="305.5" stroke="#1a1a1a" stroke-width="0.9"/>
<line x1="523.5" y1="241.75" x2="523.5" y2="304" stroke="#1a1a1a" stroke-width="0.9"/>
<line x1="518" y1="305.5" x2="523.25" y2="304" stroke="#1a1a1a" stroke-width="0.8"/>
<polyline points="437.5,304.2 450.5,298.3 450.5,332.5 478.5,316.7 478.5,280.8 493.3,272.5 494.2,305.8 511.7,297.5 518,294.5" stroke="#1a1a1a" stroke-width="0.8" fill="none" stroke-linejoin="round"/>
<line x1="478.3" y1="281" x2="518" y2="258.5" stroke="#1a1a1a" stroke-width="0.8"/>
<line x1="478.5" y1="253" x2="478.5" y2="281" stroke="#1a1a1a" stroke-width="0.8"/>
<path d="M 454.2,306.7 L 541,256 Q 549.5,252 549.5,261 L 549.5,325.5 L 540.5,330.2" stroke="#1a1a1a" stroke-width="0.9" fill="none" stroke-linejoin="round" />
<polyline points="454.2,306.7 459.5,309.5 459.5,375" stroke="#1a1a1a" stroke-width="0.9" fill="none" stroke-linejoin="round"/>
<polyline points="452.5,369.5 452.5,372.5 457.5,376.25 506.25,351.25" stroke="#1a1a1a" stroke-width="0.9" fill="none" stroke-linejoin="round"/>
<line x1="452.5" y1="369.5" x2="459.2" y2="366.5" stroke="#1a1a1a" stroke-width="0.7"/>
<path d="M 506.25,351.25 L 508.25,340 Q 510,330 511.25,322 Q 512,314 519.5,308.5 Q 527,306 533,311.5 Q 536,316 536.75,322 L 539.75,330.25" stroke="#1a1a1a" stroke-width="0.9" fill="none" stroke-linejoin="round" />
<ellipse cx="504" cy="264.5" rx="4" ry="8" transform="rotate(0 504 264.5)" stroke="#1a1a1a" stroke-width="1.0" fill="#8a8a8a"/>
<ellipse cx="504" cy="264.5" rx="2" ry="6" transform="rotate(0 504 264.5)" stroke="#333" stroke-width="0.7" fill="none"/>
<line x1="504.5" y1="258.5" x2="504.5" y2="270.5" stroke="#ddd" stroke-width="0.7"/>
<ellipse cx="535.25" cy="276.5" rx="4" ry="8" transform="rotate(0 535.25 276.5)" stroke="#1a1a1a" stroke-width="1.0" fill="#8a8a8a"/>
<ellipse cx="535.25" cy="276.5" rx="2" ry="6" transform="rotate(0 535.25 276.5)" stroke="#333" stroke-width="0.7" fill="none"/>
<line x1="535.5" y1="270.5" x2="535.5" y2="282.5" stroke="#ddd" stroke-width="0.7"/>
<ellipse cx="423.75" cy="325" rx="4" ry="8" transform="rotate(0 423.75 325)" stroke="#1a1a1a" stroke-width="1.0" fill="#8a8a8a"/>
<ellipse cx="423.75" cy="325" rx="2" ry="6" transform="rotate(0 423.75 325)" stroke="#333" stroke-width="0.7" fill="none"/>
<line x1="423.5" y1="319" x2="423.5" y2="331" stroke="#ddd" stroke-width="0.7"/>
<ellipse cx="486.25" cy="345" rx="4" ry="8" transform="rotate(0 486.25 345)" stroke="#1a1a1a" stroke-width="1.0" fill="#8a8a8a"/>
<ellipse cx="486.25" cy="345" rx="2" ry="6" transform="rotate(0 486.25 345)" stroke="#333" stroke-width="0.7" fill="none"/>
<line x1="486.5" y1="339" x2="486.5" y2="351" stroke="#ddd" stroke-width="0.7"/>
<polygon points="474,250 481,245 482.5,251.5 475.5,255" stroke="#1a1a1a" stroke-width="0.9" fill="#999" stroke-linejoin="round"/>
<polygon points="527,241.5 547.5,244 547,246.5 527,243.5" stroke="#1a1a1a" stroke-width="0.8" fill="#9a9a9a" stroke-linejoin="round"/>
<circle cx="530.5" cy="242.5" r="1.3" fill="#1a1a1a"/>
<ellipse cx="534.5" cy="335" rx="2.2" ry="2.2" transform="rotate(0 534.5 335)" stroke="#1a1a1a" stroke-width="1.0" fill="#555"/>
<circle cx="525.5" cy="316" r="1.6" fill="#1a1a1a"/>
<circle cx="519.5" cy="312" r="1.8" fill="#1a1a1a"/>
<circle cx="432.5" cy="346.25" r="1.0" fill="#1a1a1a"/>
<circle cx="466.25" cy="361.25" r="1.0" fill="#1a1a1a"/>
<path d="M 215,537.5 L 193.5,466 Q 192,455 200,450.75 L 244,427 Q 250,424.5 255,430 L 269.75,464" stroke="#1a1a1a" stroke-width="1.0" fill="none" stroke-linejoin="round" />
<path d="M 219,535 L 199.5,466 Q 199,456 207.5,452.25 L 244,431.5 Q 249,430 252,434 L 264.5,464" stroke="#1a1a1a" stroke-width="0.9" fill="none" stroke-linejoin="round" />
<line x1="214.5" y1="537" x2="219" y2="534" stroke="#1a1a1a" stroke-width="0.8"/>
<path d="M 219.5,515 A 54,51 0 0 1 327.5,515" stroke="#1a1a1a" stroke-width="1.0" fill="#fff" stroke-linejoin="round" />
<path d="M 219.5,514 L 219.5,600 M 327.5,514 L 327.5,600" stroke="#1a1a1a" stroke-width="1.0" fill="none" stroke-linejoin="round" />
<path d="M 219.5,515 A 54,23 0 0 0 327.5,515" stroke="#1a1a1a" stroke-width="0.9" fill="none" stroke-linejoin="round" />
<path d="M 219.5,592 A 54,23 0 0 0 327.5,592" stroke="#1a1a1a" stroke-width="0.9" fill="none" stroke-linejoin="round" />
<path d="M 219.5,600 A 54,30 0 0 0 327.5,600" stroke="#1a1a1a" stroke-width="1.0" fill="none" stroke-linejoin="round" />
<ellipse cx="273.4" cy="479.5" rx="9" ry="5.2" transform="rotate(0 273.4 479.5)" stroke="#1a1a1a" stroke-width="1.0" fill="none"/>
<ellipse cx="273.4" cy="479.5" rx="7.3" ry="3.8" transform="rotate(0 273.4 479.5)" stroke="#1a1a1a" stroke-width="0.8" fill="none"/>
<path d="M 264.4,480 Q 264.6,486.5 273.4,486.8 Q 282.2,486.5 282.4,480" stroke="#1a1a1a" stroke-width="0.9" fill="none" stroke-linejoin="round" />
<path d="M 265.5,441 Q 265.5,436 271,435 Q 276,434.5 280,437 Q 281.5,439 281.5,442 L 281,445 Q 273,450 266,446 Z" stroke="#1a1a1a" stroke-width="0.9" fill="#fff" stroke-linejoin="round" />
<path d="M 266,443.5 Q 273,447.5 281,443" stroke="#1a1a1a" stroke-width="1.8" fill="none" stroke-linejoin="round" />
<circle cx="277" cy="439.2" r="1.2" fill="#1a1a1a"/>
<line x1="273.5" y1="446" x2="273.5" y2="478" stroke="#1a1a1a" stroke-width="0.6"/>
<rect x="249.5" y="460.5" width="8.25" height="9" rx="2" fill="#fff" stroke="#1a1a1a" stroke-width="0.9"/>
<ellipse cx="253.6" cy="461.5" rx="3.2" ry="1.5" transform="rotate(0 253.6 461.5)" stroke="#1a1a1a" stroke-width="0.8" fill="none"/>
<polygon points="216,486 223,482 231,497 224,501" stroke="#1a1a1a" stroke-width="0.9" fill="#fff" stroke-linejoin="round"/>
<polyline points="224,501 225,505 231.5,500 231.5,497" stroke="#1a1a1a" stroke-width="0.8" fill="none" stroke-linejoin="round"/>
<polygon points="280.5,464.2 290.3,439.7 295.2,438.2 288.3,464.2" stroke="#1a1a1a" stroke-width="0.9" fill="#fff" stroke-linejoin="round"/>
<circle cx="291.8" cy="442.6" r="0.9" fill="#1a1a1a"/>
<polygon points="324,459.5 330,458 326,486 319.5,489 316,484" stroke="#1a1a1a" stroke-width="0.9" fill="#fff" stroke-linejoin="round"/>
<line x1="316" y1="484" x2="326" y2="486" stroke="#1a1a1a" stroke-width="0.8"/>
<circle cx="327" cy="461" r="0.8" fill="#1a1a1a"/>
<polygon points="251,502.5 256.6,499.5 259.5,509 271.75,516.5 262.5,523.6 251,507" stroke="#1a1a1a" stroke-width="0.9" fill="#fff" stroke-linejoin="round"/>
<line x1="259.5" y1="509" x2="262.5" y2="523.6" stroke="#1a1a1a" stroke-width="0.8"/>
<circle cx="254" cy="503" r="0.8" fill="#1a1a1a"/>
<ellipse cx="234.4" cy="501.4" rx="3.6" ry="3.6" transform="rotate(0 234.4 501.4)" stroke="#1a1a1a" stroke-width="1.0" fill="none"/>
<ellipse cx="313" cy="501.4" rx="3.6" ry="3.6" transform="rotate(0 313 501.4)" stroke="#1a1a1a" stroke-width="1.0" fill="none"/>
<ellipse cx="234.4" cy="501.4" rx="1.8" ry="2" transform="rotate(0 234.4 501.4)" stroke="#1a1a1a" stroke-width="0.7" fill="none"/>
<ellipse cx="313" cy="501.4" rx="1.8" ry="2" transform="rotate(0 313 501.4)" stroke="#1a1a1a" stroke-width="0.7" fill="none"/>
<ellipse cx="234.4" cy="546.3" rx="3.6" ry="3.8" transform="rotate(0 234.4 546.3)" stroke="#1a1a1a" stroke-width="1.0" fill="none"/>
<ellipse cx="234.4" cy="546.3" rx="1.8" ry="2" transform="rotate(0 234.4 546.3)" stroke="#1a1a1a" stroke-width="0.7" fill="none"/>
<line x1="231" y1="548" x2="214" y2="558" stroke="#1a1a1a" stroke-width="0.7"/>
<path d="M 204,558 L 207,555.5 L 211,556.5 L 212,561 L 209,564.5 L 205,563.5 Z" stroke="#1a1a1a" stroke-width="1.0" fill="#999" stroke-linejoin="round" />
<ellipse cx="207.8" cy="560" rx="1.6" ry="1.9" transform="rotate(0 207.8 560)" stroke="#1a1a1a" stroke-width="0.8" fill="#fff"/>
<path d="M 211,561.5 L 215,559.5 L 217.5,564.5 L 213.5,567 Z" stroke="#1a1a1a" stroke-width="0.9" fill="#fff" stroke-linejoin="round" />
<ellipse cx="215.5" cy="563.5" rx="1.5" ry="2.2" transform="rotate(-25 215.5 563.5)" stroke="#1a1a1a" stroke-width="0.8" fill="none"/>
<path d="M 211,556.5 L 214,555 L 215,559" stroke="#1a1a1a" stroke-width="0.8" fill="none" stroke-linejoin="round" />
<path d="M 258.25,563 L 258.25,579 Q 258.25,585 253,585.5 M 262.75,563 L 262.75,580 Q 262.75,589.5 253,589.5" stroke="#1a1a1a" stroke-width="0.9" fill="none" stroke-linejoin="round" />
<ellipse cx="260.5" cy="563" rx="2.25" ry="1.2" transform="rotate(0 260.5 563)" stroke="#1a1a1a" stroke-width="0.8" fill="#fff"/>
<path d="M 258.25,578 L 262.75,578" stroke="#1a1a1a" stroke-width="2.2" fill="none" stroke-linejoin="round" />
<ellipse cx="250.5" cy="586" rx="3.3" ry="3.6" transform="rotate(0 250.5 586)" stroke="#1a1a1a" stroke-width="1.0" fill="#fff"/>
<ellipse cx="251" cy="586.5" rx="1.5" ry="1.8" transform="rotate(0 251 586.5)" stroke="#1a1a1a" stroke-width="0.7" fill="none"/>
<line x1="216" y1="566" x2="248" y2="584" stroke="#1a1a1a" stroke-width="0.6"/>
<circle cx="310" cy="584" r="1.0" fill="#1a1a1a"/>
<rect x="184.2" y="451.1" width="5.6" height="11.8" rx="2" fill="#fff" stroke="#1a1a1a" stroke-width="0.9"/>
<rect x="184.5" y="458.4" width="5" height="2.2" fill="#222"/>
<line x1="187.5" y1="463" x2="187.5" y2="468.5" stroke="#1a1a1a" stroke-width="0.8"/>
<path d="M 184.2,470 L 184.2,474.5 Q 187,477 189.8,474.5 L 189.8,470" stroke="#1a1a1a" stroke-width="0.9" fill="#fff" stroke-linejoin="round" />
<ellipse cx="187" cy="470" rx="2.8" ry="1.5" transform="rotate(0 187 470)" stroke="#1a1a1a" stroke-width="1.3" fill="#fff"/>
<ellipse cx="190.3" cy="477.7" rx="2.8" ry="2.5" transform="rotate(-20 190.3 477.7)" stroke="#1a1a1a" stroke-width="1.4" fill="#fff"/>
<circle cx="189.5" cy="477.2" r="1.0" fill="#1a1a1a"/>
<line x1="190.7" y1="478" x2="233" y2="501" stroke="#1a1a1a" stroke-width="0.6"/>
<circle cx="362.5" cy="471.5" r="5" stroke="#1a1a1a" stroke-width="1.0" fill="#fff"/>
<path d="M 361,475 L 364,473 M 360,469 Q 363,467 366,469" stroke="#1a1a1a" stroke-width="0.8" fill="none" stroke-linejoin="round" />
<path d="M 352.5,474.5 L 359,470.5 L 362,476 L 355.5,480.5 Z" stroke="#1a1a1a" stroke-width="1.0" fill="#fff" stroke-linejoin="round" />
<path d="M 355,473 L 358.5,478.5 M 357,471.8 L 360.3,477.3" stroke="#1a1a1a" stroke-width="0.9" fill="none" stroke-linejoin="round" />
<ellipse cx="353.8" cy="477.6" rx="2.1" ry="3.2" transform="rotate(-30 353.8 477.6)" stroke="#1a1a1a" stroke-width="1.3" fill="#fff"/>
<circle cx="353.8" cy="477.6" r="1.0" fill="#1a1a1a"/>
<path d="M 361,467 Q 362.5,463.5 366,462.5 L 374,458.6" stroke="#1a1a1a" stroke-width="1.7" fill="none" stroke-linejoin="round" />
<circle cx="364" cy="475.5" r="1.2" fill="#1a1a1a"/>
<line x1="354" y1="479" x2="312" y2="501" stroke="#1a1a1a" stroke-width="0.6"/>
<ellipse cx="273.75" cy="616.5" rx="9" ry="6.3" transform="rotate(0 273.75 616.5)" stroke="#1a1a1a" stroke-width="0.9" fill="#fff"/>
<path d="M 265,618 Q 273.75,620 282.5,618" stroke="#1a1a1a" stroke-width="0.8" fill="none" stroke-linejoin="round" />
<line x1="273.5" y1="612" x2="273.5" y2="650" stroke="#1a1a1a" stroke-width="0.6"/>
<path d="M 276.7,628 L 276.7,667 L 279,672 L 296.7,673 Q 299,669 294,666 L 288,664 L 288,628.5" stroke="#1a1a1a" stroke-width="0.9" fill="#fff" stroke-linejoin="round" />
<ellipse cx="287" cy="669.5" rx="2" ry="1" transform="rotate(0 287 669.5)" stroke="#1a1a1a" stroke-width="0.8" fill="none"/>
<path d="M 316.7,598 L 316.7,642 L 320,645 L 336,645 Q 339,642 334,640 L 328,639 L 328,597" stroke="#1a1a1a" stroke-width="0.9" fill="none" stroke-linejoin="round" />
<ellipse cx="327" cy="642" rx="2" ry="0.8" transform="rotate(0 327 642)" stroke="#1a1a1a" stroke-width="0.8" fill="none"/>
<path d="M 265,651 L 265,657 Q 271,661 278,657 L 278,651" stroke="#1a1a1a" stroke-width="0.9" fill="none" stroke-linejoin="round" />
<ellipse cx="271.5" cy="651" rx="6.5" ry="3" transform="rotate(0 271.5 651)" stroke="#1a1a1a" stroke-width="0.9" fill="none"/>
<circle cx="268" cy="655" r="1.5" fill="#1a1a1a"/>
<circle cx="275" cy="655" r="1.5" fill="#1a1a1a"/>
<rect x="271" y="671" width="5" height="7" rx="1.5" fill="#333"/>
<line x1="271.5" y1="674.5" x2="275.5" y2="674.5" stroke="#fff" stroke-width="0.6"/>
<circle cx="331.5" cy="625.5" r="2.2" fill="#1a1a1a"/>
<ellipse cx="331.8" cy="631.5" rx="3" ry="1.8" transform="rotate(0 331.8 631.5)" stroke="#1a1a1a" stroke-width="1.0" fill="#666"/>
<line x1="332.5" y1="633" x2="332.5" y2="664" stroke="#1a1a1a" stroke-width="0.6"/>
<path d="M 326.3,667 L 326.5,671 Q 332.3,676 338.3,671 L 338.3,667" stroke="#1a1a1a" stroke-width="0.9" fill="#fff" stroke-linejoin="round" />
<ellipse cx="332.3" cy="667" rx="6" ry="3.5" transform="rotate(0 332.3 667)" stroke="#1a1a1a" stroke-width="0.9" fill="#fff"/>
<ellipse cx="332.3" cy="666.5" rx="2" ry="1.2" transform="rotate(0 332.3 666.5)" stroke="#1a1a1a" stroke-width="0.9" fill="#555"/>
<ellipse cx="332.6" cy="680.5" rx="3.3" ry="1.9" transform="rotate(0 332.6 680.5)" stroke="#1a1a1a" stroke-width="1.1" fill="#666"/>
<rect x="330.2" y="688" width="4.3" height="8" rx="1.2" fill="#444"/>
<line x1="330.5" y1="691.5" x2="334.2" y2="691.5" stroke="#fff" stroke-width="0.6"/>
<line x1="330.5" y1="693.5" x2="334.2" y2="693.5" stroke="#fff" stroke-width="0.6"/>
<polygon points="198.5,620.5 202.5,618.5 220,601.5 225,612 229,615.5 205.5,629.5" stroke="#1a1a1a" stroke-width="0.9" fill="#fff" stroke-linejoin="round"/>
<line x1="207" y1="627" x2="225" y2="612" stroke="#1a1a1a" stroke-width="0.8"/>
<line x1="202.5" y1="618.5" x2="206.5" y2="620.5" stroke="#1a1a1a" stroke-width="0.7"/>
<circle cx="203.5" cy="622.5" r="1.2" fill="#1a1a1a"/>
<rect x="209" y="612" width="4" height="2" rx="1" transform="rotate(40 211 613)" fill="none" stroke="#1a1a1a" stroke-width="0.7"/>
<line x1="190.5" y1="588.5" x2="210" y2="611.5" stroke="#1a1a1a" stroke-width="0.6"/>
<ellipse cx="175.5" cy="640" rx="17.8" ry="21.6" transform="rotate(-12 175.5 640)" stroke="#1a1a1a" stroke-width="1.2" fill="#1a1a1a"/>
<ellipse cx="172.5" cy="640.8" rx="16.8" ry="21.2" transform="rotate(-12 172.5 640.8)" stroke="none" stroke-width="0" fill="#fff"/>
<ellipse cx="169.5" cy="641.5" rx="15.5" ry="21.5" transform="rotate(-12 169.5 641.5)" stroke="#1a1a1a" stroke-width="1.0" fill="#fff"/>
<line x1="170.7" y1="641.7" x2="180.2" y2="641.7" stroke="#1a1a1a" stroke-width="1.6"/>
<line x1="170.7" y1="641.7" x2="179.5" y2="646.5" stroke="#1a1a1a" stroke-width="1.6"/>
<line x1="170.7" y1="641.7" x2="177.4" y2="650.5" stroke="#1a1a1a" stroke-width="1.6"/>
<line x1="170.7" y1="641.7" x2="174.3" y2="653.2" stroke="#1a1a1a" stroke-width="1.6"/>
<line x1="170.7" y1="641.7" x2="170.7" y2="654.2" stroke="#1a1a1a" stroke-width="1.6"/>
<line x1="170.7" y1="641.7" x2="167.1" y2="653.2" stroke="#1a1a1a" stroke-width="1.6"/>
<line x1="170.7" y1="641.7" x2="164.0" y2="650.5" stroke="#1a1a1a" stroke-width="1.6"/>
<line x1="170.7" y1="641.7" x2="161.9" y2="646.5" stroke="#1a1a1a" stroke-width="1.6"/>
<line x1="170.7" y1="641.7" x2="161.2" y2="641.7" stroke="#1a1a1a" stroke-width="1.6"/>
<line x1="170.7" y1="641.7" x2="161.9" y2="636.9" stroke="#1a1a1a" stroke-width="1.6"/>
<line x1="170.7" y1="641.7" x2="164.0" y2="632.9" stroke="#1a1a1a" stroke-width="1.6"/>
<line x1="170.7" y1="641.7" x2="167.1" y2="630.2" stroke="#1a1a1a" stroke-width="1.6"/>
<line x1="170.7" y1="641.7" x2="170.7" y2="629.2" stroke="#1a1a1a" stroke-width="1.6"/>
<line x1="170.7" y1="641.7" x2="174.3" y2="630.2" stroke="#1a1a1a" stroke-width="1.6"/>
<line x1="170.7" y1="641.7" x2="177.4" y2="632.9" stroke="#1a1a1a" stroke-width="1.6"/>
<line x1="170.7" y1="641.7" x2="179.5" y2="636.9" stroke="#1a1a1a" stroke-width="1.6"/>
<ellipse cx="170.7" cy="641.7" rx="10" ry="13" transform="rotate(-12 170.7 641.7)" stroke="#1a1a1a" stroke-width="0.9" fill="none"/>
<ellipse cx="170.7" cy="641.7" rx="3" ry="4" transform="rotate(-12 170.7 641.7)" stroke="#1a1a1a" stroke-width="0.9" fill="#fff"/>
<circle cx="184" cy="653.5" r="1.1" fill="#1a1a1a"/>
<line x1="176" y1="637" x2="202.5" y2="621.5" stroke="#1a1a1a" stroke-width="0.7"/>
<ellipse cx="153" cy="651.7" rx="2.3" ry="3" transform="rotate(-20 153 651.7)" stroke="#1a1a1a" stroke-width="1.8" fill="none"/>
<path d="M 134,662 L 149.3,653.3" stroke="#1a1a1a" stroke-width="4.4" fill="none" stroke-linejoin="round" />
<path d="M 134,662 L 149.3,653.3" stroke="#fff" stroke-width="2.6" fill="none" stroke-linejoin="round" />
<ellipse cx="134" cy="662" rx="2.7" ry="3.3" transform="rotate(-25 134 662)" stroke="#1a1a1a" stroke-width="1.0" fill="#fff"/>
<circle cx="138" cy="659.5" r="1.3" fill="#1a1a1a"/>
<circle cx="190.5" cy="588.5" r="1.7" fill="#1a1a1a"/>
<circle cx="194.5" cy="594" r="1.7" fill="#1a1a1a"/>
<circle cx="199.5" cy="599.5" r="1.7" fill="#1a1a1a"/>
<circle cx="203.5" cy="604.5" r="1.7" fill="#1a1a1a"/>
<circle cx="143.8" cy="574.7" r="2.3" fill="#1a1a1a"/>
<circle cx="149.3" cy="572" r="2.3" fill="#1a1a1a"/>
<polyline points="143.8,575.6 138.3,578.3 203.4,622.4" stroke="#1a1a1a" stroke-width="0.7" fill="none" stroke-linejoin="round"/>
<line x1="163" y1="610.5" x2="203.5" y2="604.5" stroke="#1a1a1a" stroke-width="0.7"/>
<path d="M 470,495.5 Q 484,510 480,538 Q 466.5,556 483.6,575.8" stroke="#1a1a1a" stroke-width="2.2" fill="none" stroke-linejoin="round" />
<path d="M 470,495.5 Q 484,510 480,538 Q 466.5,556 483.6,575.8" stroke="#fff" stroke-width="0.8" fill="none" stroke-linejoin="round" />
<circle cx="479.6" cy="538.7" r="1.5" fill="#1a1a1a"/>
<ellipse cx="489.0" cy="627.0" rx="19.0" ry="14.5" transform="rotate(-8 489.0 627.0)" stroke="#1a1a1a" stroke-width="0.7" fill="none"/>
<ellipse cx="488.55" cy="627.45" rx="18.1" ry="13.6" transform="rotate(-8 488.55 627.45)" stroke="#1a1a1a" stroke-width="0.7" fill="none"/>
<ellipse cx="488.1" cy="627.9" rx="17.2" ry="12.7" transform="rotate(-8 488.1 627.9)" stroke="#1a1a1a" stroke-width="0.7" fill="none"/>
<path d="M 480,635 Q 483.0,632.0 485,625" stroke="#1a1a1a" stroke-width="1.0" fill="none" stroke-linejoin="round" />
<path d="M 480,635 Q 485.4,633.2 489,629" stroke="#1a1a1a" stroke-width="1.0" fill="none" stroke-linejoin="round" />
<path d="M 480,635 Q 487.2,634.4 492,633" stroke="#1a1a1a" stroke-width="1.0" fill="none" stroke-linejoin="round" />
<path d="M 480,635 Q 488.4,635.0 494,635" stroke="#1a1a1a" stroke-width="1.0" fill="none" stroke-linejoin="round" />
<path d="M 500,642 Q 492.2,642.3 487,643" stroke="#1a1a1a" stroke-width="1.0" fill="none" stroke-linejoin="round" />
<path d="M 500,642 Q 494.0,641.4 490,640" stroke="#1a1a1a" stroke-width="1.0" fill="none" stroke-linejoin="round" />
<path d="M 500,642 Q 494.6,643.5 491,647" stroke="#1a1a1a" stroke-width="1.0" fill="none" stroke-linejoin="round" />
<path d="M 500,642 Q 496.4,644.1 494,649" stroke="#1a1a1a" stroke-width="1.0" fill="none" stroke-linejoin="round" />
<ellipse cx="544.0" cy="627.0" rx="19.0" ry="14.5" transform="rotate(-8 544.0 627.0)" stroke="#1a1a1a" stroke-width="0.7" fill="none"/>
<ellipse cx="543.55" cy="627.45" rx="18.1" ry="13.6" transform="rotate(-8 543.55 627.45)" stroke="#1a1a1a" stroke-width="0.7" fill="none"/>
<ellipse cx="543.1" cy="627.9" rx="17.2" ry="12.7" transform="rotate(-8 543.1 627.9)" stroke="#1a1a1a" stroke-width="0.7" fill="none"/>
<path d="M 535,635 Q 538.0,632.0 540,625" stroke="#1a1a1a" stroke-width="1.0" fill="none" stroke-linejoin="round" />
<path d="M 535,635 Q 540.4,633.2 544,629" stroke="#1a1a1a" stroke-width="1.0" fill="none" stroke-linejoin="round" />
<path d="M 535,635 Q 542.2,634.4 547,633" stroke="#1a1a1a" stroke-width="1.0" fill="none" stroke-linejoin="round" />
<path d="M 535,635 Q 543.4,635.0 549,635" stroke="#1a1a1a" stroke-width="1.0" fill="none" stroke-linejoin="round" />
<path d="M 555,642 Q 547.2,642.3 542,643" stroke="#1a1a1a" stroke-width="1.0" fill="none" stroke-linejoin="round" />
<path d="M 555,642 Q 549.0,641.4 545,640" stroke="#1a1a1a" stroke-width="1.0" fill="none" stroke-linejoin="round" />
<path d="M 555,642 Q 549.6,643.5 546,647" stroke="#1a1a1a" stroke-width="1.0" fill="none" stroke-linejoin="round" />
<path d="M 555,642 Q 551.4,644.1 549,649" stroke="#1a1a1a" stroke-width="1.0" fill="none" stroke-linejoin="round" />
<circle cx="502" cy="637" r="1.5" fill="#1a1a1a"/>
<circle cx="534" cy="637" r="1.5" fill="#1a1a1a"/>
</svg></body></html>
